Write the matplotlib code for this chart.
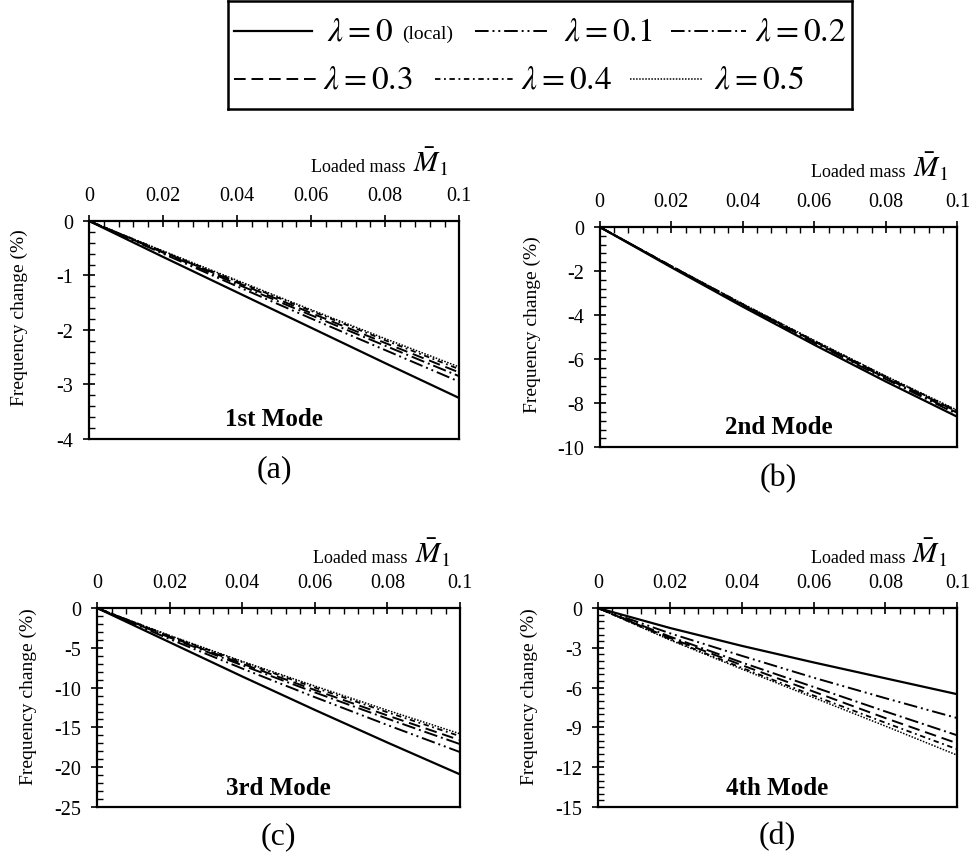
import matplotlib
matplotlib.use("Agg")
import matplotlib.pyplot as plt
from matplotlib.ticker import MultipleLocator
import numpy as np

plt.rcParams['font.family'] = ['Liberation Serif', 'DejaVu Serif']
plt.rcParams['mathtext.fontset'] = 'stix'
plt.rcParams['axes.unicode_minus'] = False

# ---------------- data ----------------
mass = [0.0, 0.02, 0.04, 0.06, 0.08, 0.10]
xtick_labels = ["0", "0.02", "0.04", "0.06", "0.08", "0.1"]
lambdas = ["0", "0.1", "0.2", "0.3", "0.4", "0.5"]

mode1 = {
    "0":   [0, -0.66, -1.31, -1.96, -2.61, -3.25],
    "0.1": [0, -0.60, -1.20, -1.79, -2.37, -2.95],
    "0.2": [0, -0.58, -1.16, -1.73, -2.29, -2.85],
    "0.3": [0, -0.57, -1.13, -1.69, -2.24, -2.78],
    "0.4": [0, -0.56, -1.11, -1.65, -2.19, -2.72],
    "0.5": [0, -0.55, -1.09, -1.63, -2.16, -2.68],
}
mode2 = {
    "0":   [0, -1.83, -3.62, -5.35, -7.02, -8.62],
    "0.1": [0, -1.80, -3.56, -5.26, -6.91, -8.50],
    "0.2": [0, -1.79, -3.54, -5.23, -6.86, -8.44],
    "0.3": [0, -1.78, -3.52, -5.20, -6.82, -8.39],
    "0.4": [0, -1.77, -3.50, -5.17, -6.79, -8.35],
    "0.5": [0, -1.77, -3.49, -5.15, -6.77, -8.32],
}
mode3 = {
    "0":   [0, -4.30, -8.60, -12.80, -16.90, -20.90],
    "0.1": [0, -3.90, -7.60, -11.20, -14.70, -18.10],
    "0.2": [0, -3.70, -7.20, -10.60, -13.90, -17.10],
    "0.3": [0, -3.60, -7.00, -10.30, -13.50, -16.60],
    "0.4": [0, -3.50, -6.80, -10.00, -13.10, -16.10],
    "0.5": [0, -3.45, -6.70, -9.80, -12.85, -15.80],
}
mode4 = {
    "0":   [0, -1.50, -2.85, -4.10, -5.30, -6.50],
    "0.1": [0, -1.90, -3.60, -5.25, -6.80, -8.30],
    "0.2": [0, -2.15, -4.10, -5.95, -7.80, -9.60],
    "0.3": [0, -2.25, -4.30, -6.30, -8.30, -10.20],
    "0.4": [0, -2.35, -4.50, -6.60, -8.65, -10.65],
    "0.5": [0, -2.40, -4.60, -6.75, -8.90, -11.10],
}

panels = [
    dict(data=mode1, ylim=(-4, 0), ystep=1, yminor=0.2, title="1st Mode", tag="(a)",
         rect=[0.0916, 0.4896, 0.381, 0.2529]),
    dict(data=mode2, ylim=(-10, 0), ystep=2, yminor=0.4, title="2nd Mode", tag="(b)",
         rect=[0.617, 0.480, 0.368, 0.2555]),
    dict(data=mode3, ylim=(-25, 0), ystep=5, yminor=1, title="3rd Mode", tag="(c)",
         rect=[0.0998, 0.0626, 0.3735, 0.2309]),
    dict(data=mode4, ylim=(-15, 0), ystep=3, yminor=0.5, title="4th Mode", tag="(d)",
         rect=[0.615, 0.0626, 0.370, 0.2309]),
]

styles = {
    "0":   dict(ls='-', lw=1.6),
    "0.1": dict(ls=(0, (7, 2, 1, 2, 1, 2)), lw=1.4),
    "0.2": dict(ls=(0, (7, 2, 1, 2)), lw=1.4),
    "0.3": dict(ls=(0, (6, 3)), lw=1.4),
    "0.4": dict(ls=(0, (3, 2, 1, 2)), lw=1.3),
    "0.5": dict(ls=(0, (1, 1)), lw=1.1),
}

fig = plt.figure(figsize=(9.72, 8.62), dpi=100)

for p in panels:
    ax = fig.add_axes(p["rect"])
    for lam in lambdas:
        ax.plot(mass, p["data"][lam], color='black', **styles[lam])
    ax.set_xlim(0, 0.1)
    ax.set_ylim(*p["ylim"])
    ax.xaxis.tick_top()
    ax.set_xticks(mass)
    ax.set_xticklabels(xtick_labels)
    ax.xaxis.set_minor_locator(MultipleLocator(0.004))
    ax.yaxis.set_major_locator(MultipleLocator(p["ystep"]))
    ax.yaxis.set_minor_locator(MultipleLocator(p["yminor"]))
    ax.tick_params(which='major', direction='inout', length=9, width=1.2,
                   labelsize=14.5, top=True, bottom=False, left=True, right=False, pad=7)
    ax.tick_params(which='minor', direction='in', length=4.5, width=1.0,
                   top=True, bottom=False, left=True, right=False)
    for s in ax.spines.values():
        s.set_linewidth(1.6)
    ax.set_ylabel("Frequency change (%)", fontsize=14, labelpad=5)
    ax.yaxis.set_label_coords(-0.165, 0.56)
    ax.text(0.5, 0.04, p["title"], transform=ax.transAxes, ha='center', va='bottom',
            fontsize=18, fontweight='bold')
    ax.text(0.5, -0.07, p["tag"], transform=ax.transAxes, ha='center', va='top',
            fontsize=23)
    ax.text(0.855, 1.23, "Loaded mass", transform=ax.transAxes, ha='right',
            va='baseline', fontsize=13)
    ax.text(0.875, 1.23, r"$\bar{M}_1$", transform=ax.transAxes, ha='left',
            va='baseline', fontsize=21)

# ---------------- legend box ----------------
lax = fig.add_axes([0.2346, 0.872, 0.642, 0.126])
lax.set_xlim(0, 1)
lax.set_ylim(0, 1)
lax.set_xticks([])
lax.set_yticks([])
for s in lax.spines.values():
    s.set_linewidth(1.8)

legend_items = [
    # (lambda key, line x0, line x1, text x, row y)
    ("0",   0.010, 0.135, 0.159, 0.72),
    ("0.1", 0.396, 0.514, 0.538, 0.72),
    ("0.2", 0.710, 0.830, 0.845, 0.72),
    ("0.3", 0.010, 0.141, 0.152, 0.28),
    ("0.4", 0.332, 0.458, 0.470, 0.28),
    ("0.5", 0.644, 0.761, 0.779, 0.28),
]
for lam, x0, x1, xt, yr in legend_items:
    lax.plot([x0, x1], [yr, yr], color='black', **styles[lam])
    lax.text(xt, yr, r"$\lambda = %s$" % lam, ha='left', va='center', fontsize=24)
lax.text(0.279, 0.70, "(local)", ha='left', va='center', fontsize=14)

fig.savefig("out.png", dpi=100)
